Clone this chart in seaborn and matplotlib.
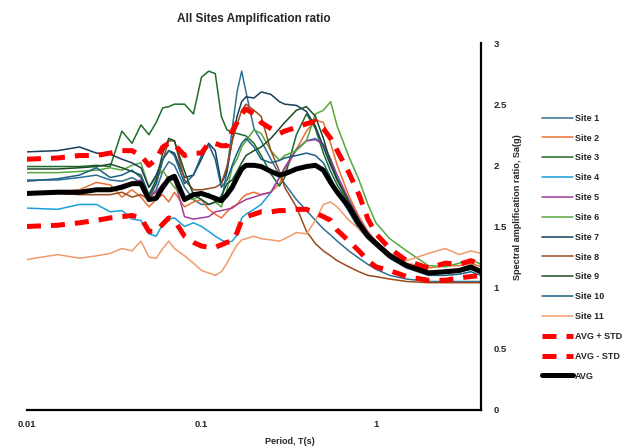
import numpy as np
import pandas as pd
import matplotlib
matplotlib.use('Agg')
import matplotlib.pyplot as plt
import seaborn as sns

# period grid (s)
period = [0.01, 0.015, 0.02, 0.025, 0.03, 0.035, 0.04, 0.045, 0.05, 0.055,
          0.06, 0.065, 0.07, 0.08, 0.09, 0.1, 0.11, 0.12, 0.13, 0.14,
          0.15, 0.16, 0.17, 0.18, 0.2, 0.22, 0.25, 0.28, 0.3, 0.35,
          0.4, 0.45, 0.5, 0.55, 0.6, 0.7, 0.8, 0.9, 1.0, 1.2,
          1.5, 2.0, 2.5, 3.0, 3.5, 4.0]

site1 = [1.88, 1.88, 1.90, 1.92, 1.88, 1.87, 1.90, 1.86, 1.72, 1.80,
         1.95, 2.03, 2.00, 1.82, 1.72, 1.68, 1.68, 1.70, 1.70, 1.95,
         2.30, 2.60, 2.77, 2.60, 2.30, 2.20, 2.05, 1.92, 1.85, 1.72,
         1.63, 1.55, 1.48, 1.43, 1.38, 1.30, 1.24, 1.19, 1.15, 1.10,
         1.07, 1.05, 1.05, 1.05, 1.05, 1.05]
site2 = [1.77, 1.78, 1.80, 1.86, 1.84, 1.74, 1.80, 1.74, 1.66, 1.72,
         1.76, 1.70, 1.78, 1.66, 1.70, 1.72, 1.64, 1.60, 1.57, 1.62,
         1.66, 1.68, 1.73, 1.76, 1.78, 1.76, 1.78, 1.85, 1.95, 2.13,
         2.28, 2.37, 2.35, 2.18, 2.00, 1.75, 1.58, 1.46, 1.38, 1.28,
         1.20, 1.16, 1.18, 1.18, 1.20, 1.17]
site3 = [1.99, 1.99, 1.99, 2.00, 1.99, 2.28, 2.18, 2.33, 2.25, 2.35,
         2.47, 2.48, 2.50, 2.50, 2.42, 2.72, 2.77, 2.75, 2.40, 2.29,
         2.27, 2.26, 2.25, 2.24, 2.18, 2.08, 1.93, 1.83, 1.90, 2.25,
         2.42, 2.30, 2.10, 1.95, 1.84, 1.68, 1.52, 1.42, 1.36, 1.27,
         1.18, 1.12, 1.12, 1.13, 1.15, 1.12]
site4 = [1.65, 1.64, 1.68, 1.68, 1.62, 1.63, 1.56, 1.55, 1.44, 1.42,
         1.52, 1.56, 1.57, 1.50, 1.53, 1.50, 1.46, 1.42, 1.39, 1.37,
         1.38, 1.43, 1.57, 1.60, 1.64, 1.68, 1.78, 1.90, 1.98, 2.13,
         2.20, 2.22, 2.17, 2.05, 1.90, 1.70, 1.55, 1.44, 1.38, 1.27,
         1.18, 1.12, 1.12, 1.13, 1.15, 1.12]
site5 = [1.77, 1.77, 1.78, 1.79, 1.80, 1.84, 1.86, 1.88, 1.74, 1.78,
         1.85, 1.88, 1.88, 1.58, 1.56, 1.57, 1.58, 1.62, 1.63, 1.64,
         1.65, 1.68, 1.70, 1.72, 1.74, 1.76, 1.78, 1.90, 1.98, 2.13,
         2.20, 2.21, 2.17, 2.05, 1.92, 1.72, 1.56, 1.45, 1.38, 1.28,
         1.19, 1.13, 1.13, 1.14, 1.16, 1.13]
site6 = [1.94, 1.94, 1.95, 1.96, 1.98, 1.96, 2.00, 2.02, 1.82, 1.90,
         1.96, 1.88, 1.82, 1.74, 1.72, 1.76, 1.77, 1.70, 1.66, 1.80,
         1.98, 2.05, 2.15, 2.20, 2.29, 2.26, 2.12, 2.04, 2.08, 2.12,
         2.20, 2.42, 2.45, 2.52, 2.32, 2.07, 1.88, 1.68, 1.53, 1.40,
         1.30, 1.18, 1.17, 1.20, 1.23, 1.19]
site7 = [2.11, 2.12, 2.15, 2.10, 2.09, 2.05, 2.02, 1.98, 1.82, 1.92,
         2.05, 2.12, 2.10, 1.90, 1.92, 2.05, 2.18, 2.12, 1.85, 1.95,
         2.20, 2.40, 2.52, 2.56, 2.55, 2.60, 2.58, 2.52, 2.50, 2.49,
         2.44, 2.32, 2.15, 2.00, 1.88, 1.70, 1.55, 1.44, 1.37, 1.27,
         1.18, 1.12, 1.12, 1.13, 1.15, 1.12]
site8 = [1.77, 1.77, 1.76, 1.76, 1.76, 1.78, 1.74, 1.76, 1.72, 1.85,
         2.04, 2.20, 2.20, 1.88, 1.80, 1.80, 1.81, 1.82, 1.85, 1.99,
         2.20, 2.33, 2.45, 2.50, 2.45, 2.40, 2.12, 1.95, 1.82, 1.66,
         1.46, 1.36, 1.30, 1.26, 1.22, 1.17, 1.13, 1.10, 1.09, 1.07,
         1.05, 1.04, 1.04, 1.04, 1.04, 1.04]
site9 = [1.97, 1.97, 1.98, 1.99, 2.01, 1.98, 1.95, 1.92, 1.76, 1.88,
         2.10, 2.22, 2.20, 1.95, 1.76, 1.72, 1.68, 1.70, 1.75, 1.85,
         1.88, 1.95, 2.02, 2.08, 2.12, 2.15, 2.22, 2.30, 2.35, 2.45,
         2.48, 2.40, 2.22, 2.02, 1.88, 1.70, 1.54, 1.44, 1.38, 1.28,
         1.19, 1.13, 1.13, 1.14, 1.16, 1.13]
site10 = [1.87, 1.89, 1.92, 1.98, 1.90, 1.92, 1.96, 1.90, 1.75, 1.85,
          2.05, 2.12, 2.08, 1.85, 1.92, 2.08, 2.17, 2.05, 1.82, 1.88,
          2.00, 2.10, 2.18, 2.22, 2.15, 2.05, 2.02, 2.04, 2.06, 2.08,
          2.10, 2.08, 2.02, 1.90, 1.78, 1.62, 1.48, 1.40, 1.34, 1.24,
          1.16, 1.10, 1.10, 1.11, 1.13, 1.10]
site11 = [1.23, 1.27, 1.24, 1.26, 1.28, 1.32, 1.30, 1.38, 1.25, 1.24,
          1.32, 1.38, 1.32, 1.26, 1.20, 1.14, 1.12, 1.10, 1.13, 1.20,
          1.28, 1.35, 1.39, 1.40, 1.42, 1.40, 1.39, 1.38, 1.40, 1.45,
          1.44, 1.55, 1.68, 1.70, 1.66, 1.55, 1.48, 1.40, 1.34, 1.26,
          1.22, 1.28, 1.32, 1.27, 1.30, 1.28]

avg = [1.77, 1.78, 1.78, 1.80, 1.80, 1.82, 1.85, 1.85, 1.72, 1.73,
       1.82, 1.89, 1.91, 1.72, 1.76, 1.77, 1.75, 1.73, 1.71, 1.76,
       1.82, 1.90, 1.97, 2.00, 2.00, 1.99, 1.95, 1.92, 1.93, 1.97,
       1.99, 2.00, 1.96, 1.86, 1.78, 1.66, 1.52, 1.42, 1.36, 1.26,
       1.18, 1.12, 1.13, 1.14, 1.17, 1.13]
avg_plus = [2.05, 2.06, 2.08, 2.08, 2.10, 2.12, 2.12, 2.08, 2.00, 2.05,
            2.15, 2.18, 2.17, 2.08, 2.10, 2.10, 2.18, 2.18, 2.16, 2.16,
            2.28, 2.35, 2.42, 2.46, 2.42, 2.35, 2.30, 2.26, 2.28, 2.31,
            2.34, 2.36, 2.30, 2.22, 2.12, 1.94, 1.76, 1.56, 1.44, 1.32,
            1.22, 1.16, 1.20, 1.19, 1.22, 1.19]
avg_minus = [1.50, 1.51, 1.53, 1.55, 1.57, 1.58, 1.59, 1.57, 1.46, 1.46,
             1.52, 1.57, 1.55, 1.42, 1.37, 1.34, 1.33, 1.33, 1.35, 1.37,
             1.38, 1.45, 1.55, 1.58, 1.60, 1.62, 1.62, 1.63, 1.63, 1.64,
             1.64, 1.61, 1.58, 1.55, 1.47, 1.38, 1.30, 1.22, 1.17, 1.14,
             1.09, 1.06, 1.06, 1.08, 1.09, 1.10]

site_names = ['Site %d' % i for i in range(1, 12)]
site_vals = [site1, site2, site3, site4, site5, site6, site7, site8, site9, site10, site11]
site_colors = ['#2f6f93', '#e97132', '#1f6b2a', '#1a9fd6', '#a33b9b', '#55a83a',
               '#173f5a', '#9a4a1c', '#1d4d26', '#1a5f82', '#ef9a6a']

sns.set_style('white')
plt.rcParams['font.family'] = ['Liberation Sans Narrow', 'Liberation Sans', 'DejaVu Sans']
plt.rcParams['font.weight'] = 'bold'

fig = plt.figure(figsize=(6.26, 4.48), dpi=100)
ax = fig.add_axes([0.0431, 0.085, 0.7252, 0.819])

for name, vals, col in zip(site_names, site_vals, site_colors):
    sns.lineplot(x=period, y=vals, ax=ax, color=col, lw=1.1, label=name)

sns.lineplot(x=period, y=avg_plus, ax=ax, color='#ff0000', lw=3.6, label='AVG + STD')
sns.lineplot(x=period, y=avg_minus, ax=ax, color='#ff0000', lw=3.6, label='AVG - STD')
sns.lineplot(x=period, y=avg, ax=ax, color='black', lw=3.6, label='AVG')
for ln in ax.lines[11:13]:
    ln.set_dashes((2.8, 2.0))
    ln.set_dash_capstyle('butt')

ax.set_xscale('log')
ax.set_xlim(0.01, 4)
ax.set_ylim(0, 3)
ax.set_xticks([0.01, 0.1, 1])
ax.set_xticklabels(['0.01', '0.1', '1'])
ax.minorticks_off()
ax.set_yticks([0, 0.5, 1, 1.5, 2, 2.5, 3])
ax.set_yticklabels(['0', '0.5', '1', '1.5', '2', '2.5', '3'])
ax.yaxis.tick_right()
ax.yaxis.set_label_position('right')
ax.tick_params(axis='both', length=0, labelsize=6.8)
ax.tick_params(axis='y', pad=9)
ax.tick_params(axis='x', pad=7)

for s in ['top', 'left']:
    ax.spines[s].set_visible(False)
for s in ['bottom', 'right']:
    ax.spines[s].set_color('black')
    ax.spines[s].set_linewidth(1.6)

ax.set_title('All Sites Amplification ratio', fontsize=8.5, fontweight='bold', pad=15)
ax.set_xlabel('Period, T(s)', fontsize=6.5, fontweight='bold')
ax.xaxis.set_label_coords(0.58, -0.075)
ax.set_ylabel('Spectral amplification ratio, Sa(g)', fontsize=6.6, fontweight='bold')
ax.yaxis.set_label_coords(1.07, 0.553)

leg = ax.legend(loc='upper left', bbox_to_anchor=(0.866, 0.746), bbox_transform=fig.transFigure,
                frameon=False, fontsize=6.5, handlelength=3.4, handletextpad=0.25,
                labelspacing=1.2, borderpad=0, borderaxespad=0)

fig.savefig('out.png', dpi=100)
